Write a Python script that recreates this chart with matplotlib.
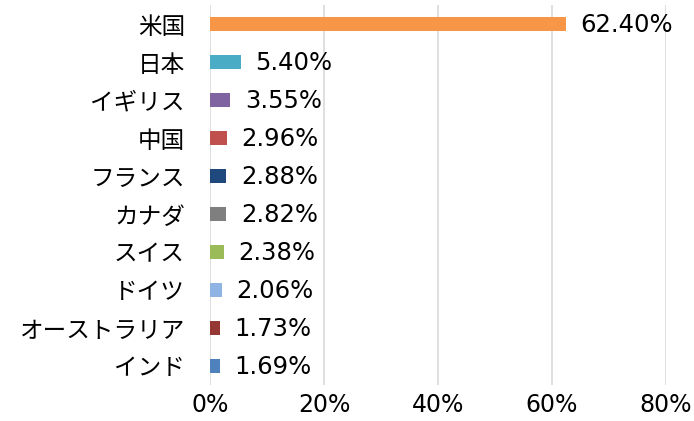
import matplotlib
matplotlib.use("Agg")
import matplotlib.pyplot as plt

plt.rcParams['font.family'] = ['DejaVu Sans', 'Noto Sans CJK JP']

# 国別構成比
countries = ["米国", "日本", "イギリス", "中国", "フランス", "カナダ", "スイス", "ドイツ", "オーストラリア", "インド"]
weights = [62.40, 5.40, 3.55, 2.96, 2.88, 2.82, 2.38, 2.06, 1.73, 1.69]
colors = ["#F79646", "#4BACC6", "#8064A2", "#C0504D", "#1F497D",
          "#7F7F7F", "#9BBB59", "#8DB4E2", "#953735", "#4F81BD"]
xticks = [0, 20, 40, 60, 80]

fig = plt.figure(figsize=(6.94, 4.21), dpi=100)
ax = fig.add_axes([210/694, 1-385/421, 456/694, 380/421])

ypos = list(range(len(countries)))
ax.barh(ypos, weights, height=0.37, color=colors, zorder=3)
for y, w in zip(ypos, weights):
    ax.text(w + 2.6, y + 0.03, "%.2f%%" % w, va="center", ha="left", fontsize=17.5, color="#000000")

ax.set_xlim(0, 80)
ax.set_ylim(len(countries) - 0.5, -0.5)
ax.set_yticks(ypos)
ax.set_yticklabels(countries, fontsize=17)
ax.set_xticks(xticks)
ax.set_xticklabels(["%d%%" % t for t in xticks], fontsize=17)
ax.tick_params(axis="both", length=0)
ax.tick_params(axis="y", pad=18)
ax.tick_params(axis="x", pad=6)
ax.grid(axis="x", color="#D9D9D9", linewidth=1.2, zorder=0)
for s in ax.spines.values():
    s.set_visible(False)

plt.savefig("out.png", dpi=100)
